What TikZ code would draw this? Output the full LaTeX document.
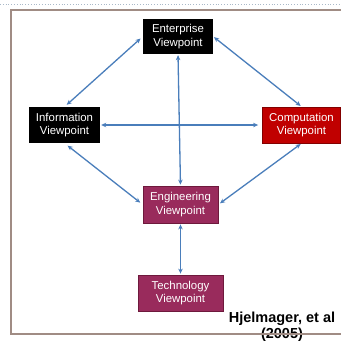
\documentclass[tikz,border=0pt]{standalone}
\usepackage{fontspec}
\setmainfont{Liberation Sans}
\usetikzlibrary{arrows.meta}
\definecolor{arrblue}{RGB}{74,126,187}
\definecolor{framec}{RGB}{160,140,132}
\definecolor{maroonv}{RGB}{153,43,92}
\definecolor{maroond}{RGB}{110,25,60}
\definecolor{redv}{RGB}{192,0,0}
\definecolor{redd}{RGB}{130,0,0}
\definecolor{dotc}{RGB}{170,185,200}
\begin{document}
\begin{tikzpicture}[x=1pt,y=-1pt,
  vp/.style={rectangle, inner sep=0pt, align=center, text=white,
    font=\fontsize{11.4}{13.5}\selectfont},
  blackvp/.style={vp, fill=black},
  redvp/.style={vp, fill=redv, draw=redd, line width=0.8pt},
  marvp/.style={vp, fill=maroonv, draw=maroond, line width=0.8pt},
  arr/.style={draw=arrblue, line width=1.3pt,
    {Stealth[length=5pt,width=4.5pt]}-{Stealth[length=5pt,width=4.5pt]}}]
\useasboundingbox (0,0) rectangle (341,341);
\fill[white] (0,0) rectangle (341,341);
\draw[dotc, dotted, line width=0.8pt] (0,4) -- (341,4);
\node[font=\bfseries\fontsize{14.5}{16}\selectfont, align=center] (ref) at (282,327) {Hjelmager, et al\\(2005)};
\draw[framec, line width=2pt] (11,10) rectangle (360,334);
\node[blackvp, minimum width=70pt, minimum height=35pt] (ent) at (178,36.5) {Enterprise\\Viewpoint};
\node[blackvp, minimum width=71pt, minimum height=36pt] (info) at (64.5,125) {Information\\Viewpoint};
\node[redvp, minimum width=78pt, minimum height=36pt] (comp) at (301.5,125) {Computation\\Viewpoint};
\node[marvp, minimum width=75pt, minimum height=37pt] (eng) at (180.5,204.5) {Engineering\\Viewpoint};
\node[marvp, minimum width=85pt, minimum height=36pt] (tech) at (180.5,293) {Technology\\Viewpoint};
\draw[arr, shorten <=3pt, shorten >=3pt] (info.north) -- (ent.west);
\draw[arr, shorten <=1pt, shorten >=1pt] (ent.east) -- (comp.north);
\draw[arr, shorten <=1pt, shorten >=1pt] (ent.south) -- (eng.north);
\draw[arr, shorten <=1pt, shorten >=4pt] (info.east) -- (comp.west);
\draw[arr, shorten <=4pt, shorten >=3pt] (info.south) -- (eng.west);
\draw[arr, shorten <=1pt, shorten >=2pt] (comp.south) -- (eng.east);
\draw[arr, shorten <=1pt, shorten >=1pt] (eng.south) -- (tech.north);
\end{tikzpicture}
\end{document}
